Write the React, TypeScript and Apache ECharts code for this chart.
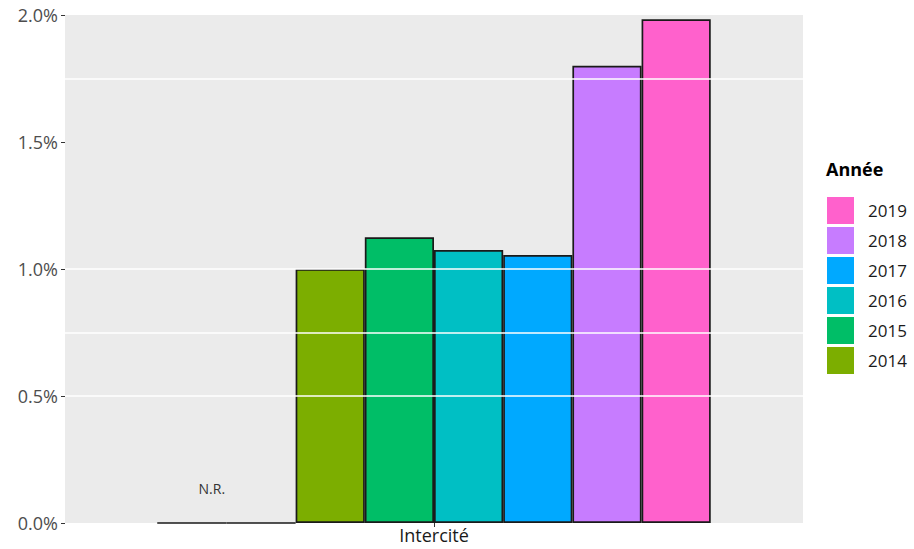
import React, { useEffect, useRef } from "react";
import * as echarts from "echarts";

const categories = ["Intercité"];
const years = ["2012", "2013", "2014", "2015", "2016", "2017", "2018", "2019"];
const values = [0, 0, 1.0, 1.125, 1.075, 1.055, 1.8, 1.983];
const colors = ["#F8766D", "#CD9600", "#7CAE00", "#00BE67", "#00BFC4", "#00A9FF", "#C77CFF", "#FF61CC"];
const legendYears = ["2019", "2018", "2017", "2016", "2015", "2014"];
const gridValues = [0.5, 0.75, 1.0, 1.75];
const yTicks = { min: 0, max: 2, interval: 0.5 };
const naLabel = "N.R.";
const legendTitle = "Année";

const FONT = "'Open Sans', 'DejaVu Sans', sans-serif";

export default function App() {
  const ref = useRef<HTMLDivElement>(null);
  useEffect(() => {
    if (!ref.current) return;
    const chart = echarts.init(ref.current, undefined, { renderer: "svg" });
    const series: any[] = years.map((y, i) => ({
      name: y,
      type: "bar",
      barGap: "0%",
      barCategoryGap: "25%",
      z: 3,
      data: [values[i]],
      itemStyle: {
        color: values[i] === 0 ? "rgba(0,0,0,0)" : colors[i],
        borderColor: "#1a1a1a",
        borderWidth: 1.7,
      },
      label:
        i === 0
          ? {
              show: true,
              position: "top",
              distance: 27,
              offset: [20, 0],
              formatter: naLabel,
              fontFamily: FONT,
              fontSize: 14,
              color: "#333",
            }
          : { show: false },
    }));
    series.unshift({
      name: "grid",
      type: "line",
      data: [],
      z: 1,
      silent: true,
      markLine: {
        silent: true,
        symbol: "none",
        label: { show: false },
        lineStyle: { color: "#ffffff", width: 1.5, type: "solid" },
        data: gridValues.map((v) => ({ yAxis: v })),
      },
    });
    chart.setOption({
      animation: false,
      grid: {
        left: 65,
        right: 111,
        top: 15,
        bottom: 26,
        show: true,
        backgroundColor: "#EBEBEB",
        borderWidth: 0,
      },
      xAxis: {
        type: "category",
        data: categories,
        axisLine: { show: false },
        axisTick: { show: true, alignWithLabel: true, length: 4, lineStyle: { color: "#333" } },
        axisLabel: { fontFamily: FONT, fontSize: 18, color: "#1a1a1a", margin: 3 },
      },
      yAxis: {
        type: "value",
        min: yTicks.min,
        max: yTicks.max,
        interval: yTicks.interval,
        axisLine: { show: false },
        splitLine: { show: false },
        axisTick: { show: true, length: 4, lineStyle: { color: "#333" } },
        axisLabel: {
          fontFamily: FONT,
          fontSize: 18,
          color: "#4D4D4D",
          margin: 7,
          formatter: (v: number) => v.toFixed(1) + "%",
        },
      },
      legend: {
        data: legendYears,
        orient: "vertical",
        left: 827,
        top: 197,
        itemWidth: 27,
        itemHeight: 27,
        itemGap: 3,
        icon: "rect",
        selectedMode: false,
        padding: 0,
        itemStyle: { borderWidth: 0 },
        textStyle: {
          fontFamily: FONT,
          fontSize: 17,
          lineHeight: 20,
          color: "#1a1a1a",
          padding: [0, 0, 0, 9],
        },
      },
      graphic: [
        {
          type: "text",
          left: 826,
          top: 160,
          style: {
            text: legendTitle,
            font: "bold 18px " + FONT,
            fill: "#000",
          },
        },
      ],
      series,
    });
    return () => chart.dispose();
  }, []);
  return <div ref={ref} style={{ width: 914, height: 549, position: "absolute", left: 0, top: 0 }} />;
}
